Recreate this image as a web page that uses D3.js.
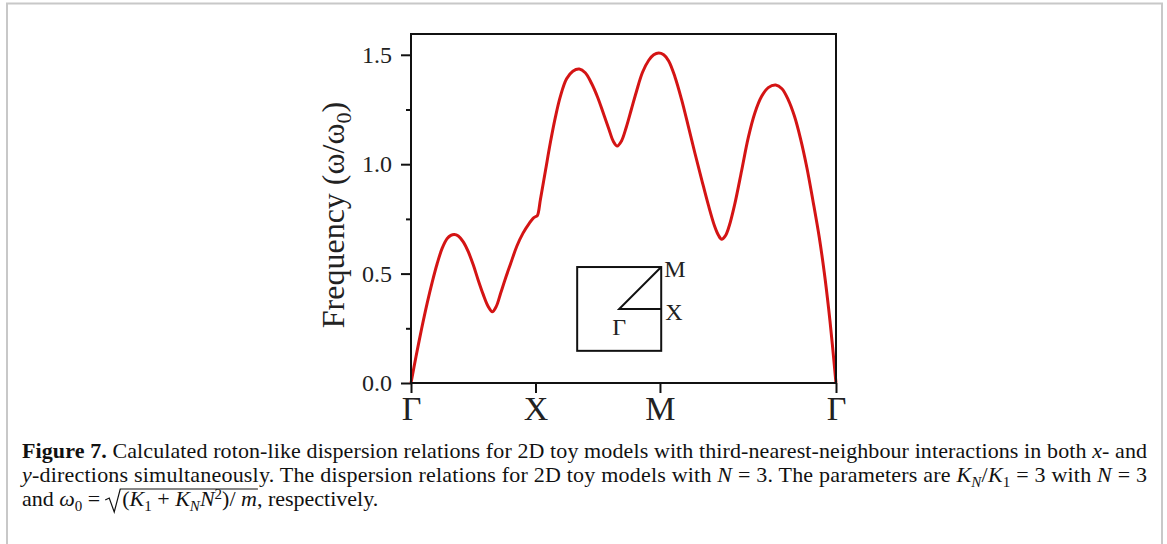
<!DOCTYPE html>
<html>
<head>
<meta charset="utf-8">
<script src="https://cdn.jsdelivr.net/npm/d3@7"></script>
<style>
  body { margin: 0; background: #fff; }
  svg { display: block; }
  .axis text { font-family: "Liberation Serif", serif; fill: #222; }
  .axis line { stroke: #111; stroke-width: 2; }
</style>
</head>
<body>
<div id="chart"></div>
<script>
// wave-vector position along the path (Γ-X = 1, X-M = 1, M-Γ = √2)
const pathK = [0, 0.04, 0.086, 0.13, 0.17, 0.21, 0.25, 0.29, 0.32, 0.348, 0.38, 0.42, 0.46, 0.50, 0.54, 0.58, 0.62, 0.653,
  0.685, 0.72, 0.76, 0.80, 0.85, 0.90, 0.95, 0.985, 1.0,
  1.015, 1.04, 1.08, 1.12, 1.16, 1.20, 1.25, 1.30, 1.352, 1.40, 1.45, 1.50, 1.55, 1.59, 1.625, 1.657, 1.69, 1.73, 1.77,
  1.81, 1.86, 1.91, 1.95, 1.99,
  2.03, 2.07, 2.12, 2.174, 2.227, 2.281, 2.335, 2.388, 2.44, 2.47, 2.496, 2.525, 2.555, 2.60, 2.656, 2.709, 2.763, 2.817,
  2.87, 2.93, 2.98, 3.03, 3.08, 3.13, 3.18, 3.23, 3.28, 3.32, 3.355, 3.385, 3.414];
// frequency omega/omega0
const freq = [0, 0.12, 0.25, 0.365, 0.46, 0.545, 0.615, 0.66, 0.675, 0.679, 0.672, 0.645, 0.60, 0.54, 0.47, 0.405, 0.35, 0.326,
  0.35, 0.41, 0.48, 0.545, 0.625, 0.685, 0.73, 0.755, 0.76,
  0.765, 0.84, 0.97, 1.10, 1.215, 1.31, 1.39, 1.425, 1.435, 1.418, 1.37, 1.305, 1.225, 1.16, 1.105, 1.083, 1.105, 1.17, 1.25,
  1.33, 1.42, 1.475, 1.50, 1.508,
  1.50, 1.472, 1.40, 1.295, 1.175, 1.05, 0.93, 0.815, 0.715, 0.675, 0.657, 0.672, 0.715, 0.815, 0.97, 1.12, 1.235, 1.31,
  1.35, 1.362, 1.345, 1.295, 1.22, 1.115, 0.985, 0.83, 0.665, 0.505, 0.34, 0.175, 0];

const symPoints = [0, 1, 2, 2 + Math.SQRT2];
const symLabels = ["Γ", "X", "M", "Γ"];
const yMajor = [0, 0.5, 1.0, 1.5];
const yMinor = [0.25, 0.75, 1.25];

const W = 1167, H = 544;
const margin = { top: 34, left: 411 },
  width = 425,
  height = 349;

const svg = d3.select("#chart").append("svg")
  .attr("width", W)
  .attr("height", H);

// page frame (grey border of the figure box)
svg.append("path")
  .attr("d", "M7,560 L7,3.5 L1162,3.5 L1162,560")
  .attr("fill", "none")
  .attr("stroke", "#c8c8c8")
  .attr("stroke-width", 2);

const g = svg.append("g")
  .attr("transform", "translate(" + margin.left + "," + margin.top + ")");

const x = d3.scaleLinear().domain([0, 2 + Math.SQRT2]).range([0, width]);
const y = d3.scaleLinear().domain([0, 1.595]).range([height, 0]);

// y axis, major + minor ticks
g.append("g").attr("class", "axis")
  .call(d3.axisLeft(y).tickValues(yMajor).tickFormat(d3.format(".1f")).tickSize(10).tickPadding(9))
  .call(a => a.select(".domain").remove())
  .selectAll("text").style("font-size", "24px");

g.append("g").attr("class", "axis")
  .call(d3.axisLeft(y).tickValues(yMinor).tickFormat("").tickSize(5))
  .call(a => a.select(".domain").remove());

// x axis with symmetry points
g.append("g").attr("class", "axis")
  .attr("transform", "translate(0," + height + ")")
  .call(d3.axisBottom(x).tickValues(symPoints).tickFormat((d, i) => symLabels[i]).tickSize(10).tickPadding(3))
  .call(a => a.select(".domain").remove())
  .selectAll("text").style("font-size", "34px");

// dispersion curve
const line = d3.line()
  .x((d, i) => x(pathK[i]))
  .y(d => y(d))
  .curve(d3.curveCatmullRom.alpha(0.5));

g.append("path")
  .datum(freq)
  .attr("fill", "none")
  .attr("stroke", "#d41414")
  .attr("stroke-width", 3)
  .attr("stroke-linejoin", "round")
  .attr("d", line);

// plot frame
g.append("rect")
  .attr("width", width)
  .attr("height", height)
  .attr("fill", "none")
  .attr("stroke", "#111")
  .attr("stroke-width", 2);

// y label
const ylab = svg.append("text")
  .attr("transform", "translate(344,215) rotate(-90)")
  .attr("text-anchor", "middle")
  .style("font-family", "Liberation Serif, serif")
  .style("font-size", "32px")
  .style("fill", "#222");
ylab.append("tspan").text("Frequency (ω/ω");
ylab.append("tspan").attr("dy", 7).style("font-size", "22px").text("0");
ylab.append("tspan").attr("dy", -7).text(")");

// Brillouin zone inset
const inset = { x0: 1.335, x1: 2.01, y0: 0.147, y1: 0.53 };
const ig = g.append("g").attr("stroke", "#111").attr("stroke-width", 2).attr("fill", "none");
ig.append("rect")
  .attr("x", x(inset.x0)).attr("y", y(inset.y1))
  .attr("width", x(inset.x1) - x(inset.x0))
  .attr("height", y(inset.y0) - y(inset.y1));
const cx = (x(inset.x0) + x(inset.x1)) / 2, cy = (y(inset.y0) + y(inset.y1)) / 2;
ig.append("path")
  .attr("d", "M" + x(inset.x1) + "," + y(inset.y1) + " L" + cx + "," + cy + " L" + x(inset.x1) + "," + cy);
const il = g.append("g")
  .style("font-family", "Liberation Serif, serif")
  .style("font-size", "24px")
  .style("fill", "#222");
il.append("text").attr("x", x(inset.x1) + 3).attr("y", y(inset.y1) + 10).text("M");
il.append("text").attr("x", x(inset.x1) + 4).attr("y", cy + 11).text("X");
il.append("text").attr("x", cx).attr("y", cy + 26).attr("text-anchor", "middle").text("Γ");

// caption
const cap = svg.append("g")
  .style("font-family", "Liberation Serif, serif")
  .style("font-size", "22px")
  .style("fill", "#111");

function runs(sel, x0, y0, parts) {
  const t = sel.append("text").attr("x", x0).attr("y", y0);
  let shift = 0;
  parts.forEach(p => {
    const want = p.sub ? 5 : p.sup ? -7 : 0;
    const s = t.append("tspan").text(p.t).attr("dy", want - shift);
    shift = want;
    if (p.b) s.style("font-weight", "bold");
    if (p.i) s.style("font-style", "italic");
    if (p.sub || p.sup) s.style("font-size", "15px");
  });
  return t;
}

runs(cap, 22, 458, [
  { t: "Figure 7.", b: true },
  { t: " Calculated roton-like dispersion relations for 2D toy models with third-nearest-neighbour interactions in both " },
  { t: "x", i: true }, { t: "- and" }
]).attr("textLength", 1125).attr("lengthAdjust", "spacing");

runs(cap, 22, 482, [
  { t: "y", i: true },
  { t: "-directions simultaneously. The dispersion relations for 2D toy models with " },
  { t: "N", i: true }, { t: " = 3. The parameters are " },
  { t: "K", i: true }, { t: "N", i: true, sub: true }, { t: "/" },
  { t: "K", i: true }, { t: "1", sub: true }, { t: " = 3 with " },
  { t: "N", i: true }, { t: " = 3" }
]).attr("textLength", 1125).attr("lengthAdjust", "spacing");

const l3a = runs(cap, 22, 506, [
  { t: "and " }, { t: "ω", i: true }, { t: "0", sub: true }, { t: " = " }
]);
let cur = 22 + l3a.node().getComputedTextLength() + 5;
const rad = cur;
cur += 17;
const l3b = runs(cap, cur, 506, [
  { t: "(" }, { t: "K", i: true }, { t: "1", sub: true }, { t: " + " },
  { t: "K", i: true }, { t: "N", i: true, sub: true }, { t: "N", i: true }, { t: "2", sup: true },
  { t: ")/ " }, { t: "m", i: true }
]);
const endB = cur + l3b.node().getComputedTextLength();
cap.append("path")
  .attr("d", "M" + rad + "," + 500 + " L" + (rad + 4) + "," + 498 + " L" + (rad + 9) + "," + 512 +
    " L" + (rad + 15) + "," + 489 + " L" + (endB + 1) + "," + 489)
  .attr("fill", "none")
  .attr("stroke", "#111")
  .attr("stroke-width", 1.2);
runs(cap, endB, 506, [{ t: ", respectively." }]);
</script>
</body>
</html>
